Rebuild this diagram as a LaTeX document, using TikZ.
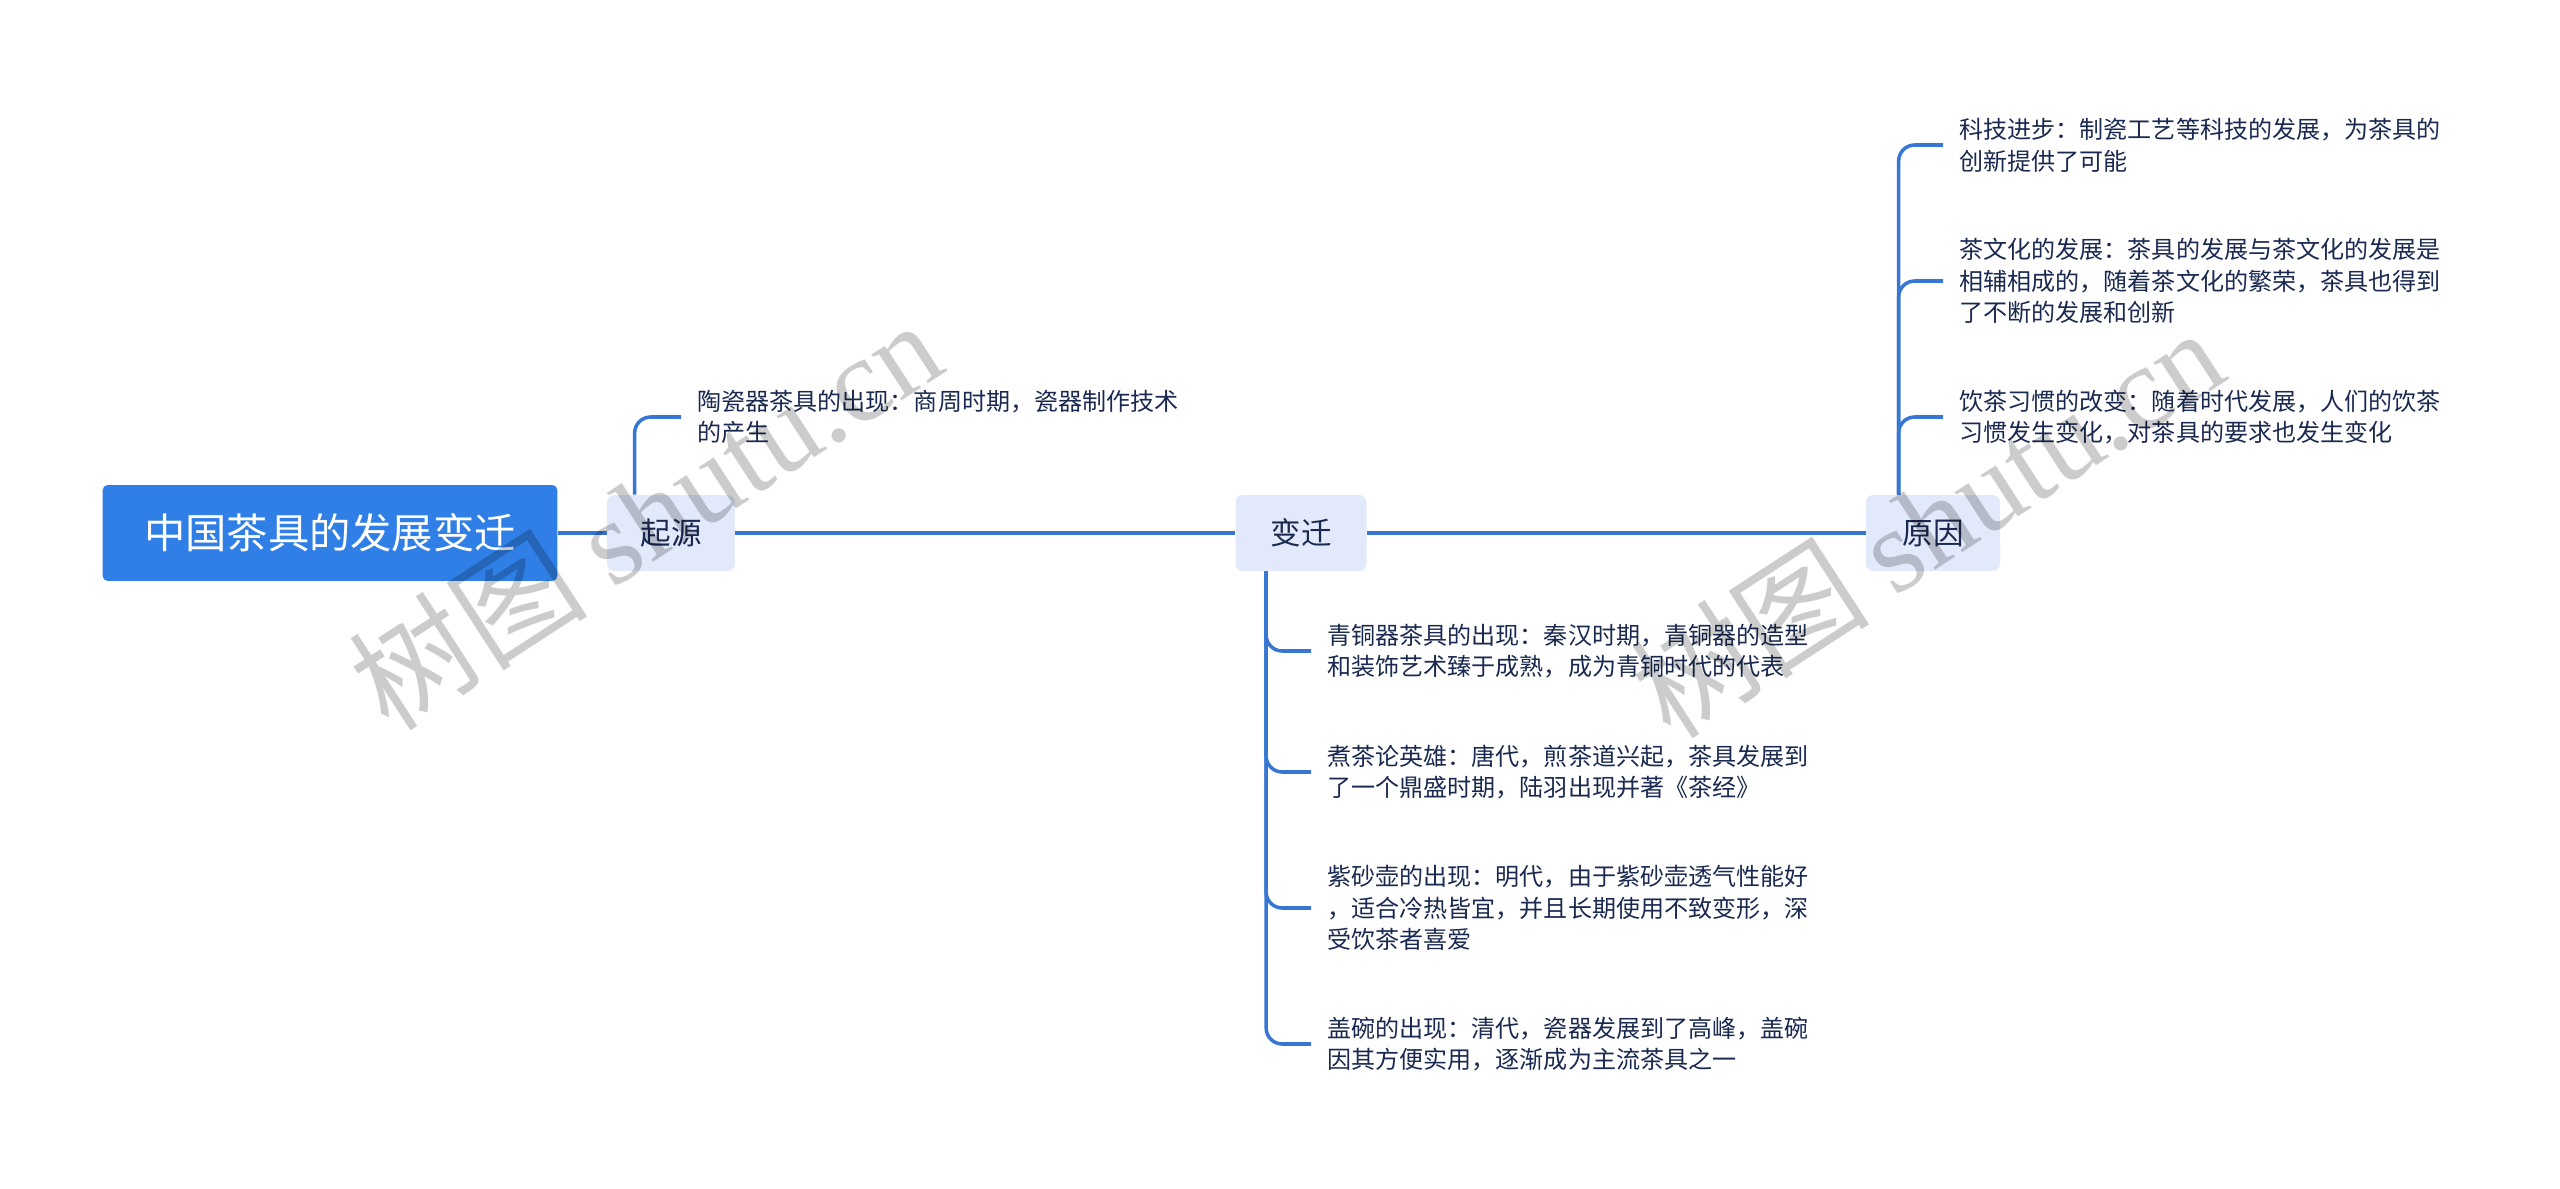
\documentclass[tikz,border=0pt]{standalone}
\usepackage{fontspec}
\usepackage{xcolor}
\setmainfont{Noto Sans CJK SC}
\newfontfamily\wmlatin{Liberation Serif}

\definecolor{rootblue}{HTML}{2F7FE6}
\definecolor{linkblue}{HTML}{3777D2}
\definecolor{topicfill}{HTML}{E2E9FA}
\definecolor{inktext}{HTML}{1A2950}

\begin{document}
\begin{tikzpicture}[x=0.02cm, y=-0.02cm,
  every node/.style={font=\fontsize{13.7pt}{18pt}\selectfont, text=inktext},
  root/.style={fill=rootblue, rounded corners=3pt, minimum width=9.1cm, minimum height=1.92cm, text=white, font=\fontsize{23.5pt}{28pt}\selectfont},
  topic/.style={fill=topicfill, rounded corners=4pt, minimum height=1.52cm, font=\fontsize{17.4pt}{21pt}\selectfont},
  leaf/.style={anchor=west, align=left, inner xsep=0.32cm, inner ysep=0pt},
  link/.style={draw=linkblue, line width=2pt},
  branch/.style={link, rounded corners=0.32cm},
  wm/.style={text=black, text opacity=0.2, font=\fontsize{68pt}{68pt}\selectfont}]
\useasboundingbox (0,0) rectangle (2560,1189);
\node[root] (root) at (330,533) {中国茶具的发展变迁};
\node[topic, minimum width=2.56cm] (qy) at (671,533) {起源};
\node[topic, minimum width=2.62cm] (bq) at (1301,533) {变迁};
\node[topic, minimum width=2.68cm] (yy) at (1933,533) {原因};
\draw[link] (root) -- (qy); \draw[link] (qy) -- (bq); \draw[link] (bq) -- (yy);
% 起源
\node[leaf] (qy1) at (681,417) {陶瓷器茶具的出现：商周时期，瓷器制作技术\\的产生};
\draw[branch] ([xshift=0.56cm]qy.north west) |- (qy1.west);
% 变迁
\node[leaf] (bq1) at (1311,651) {青铜器茶具的出现：秦汉时期，青铜器的造型\\和装饰艺术臻于成熟，成为青铜时代的代表};
\node[leaf] (bq2) at (1311,772) {煮茶论英雄：唐代，煎茶道兴起，茶具发展到\\了一个鼎盛时期，陆羽出现并著《茶经》};
\node[leaf] (bq3) at (1311,908) {紫砂壶的出现：明代，由于紫砂壶透气性能好\\，适合冷热皆宜，并且长期使用不致变形，深\\受饮茶者喜爱};
\node[leaf] (bq4) at (1311,1044) {盖碗的出现：清代，瓷器发展到了高峰，盖碗\\因其方便实用，逐渐成为主流茶具之一};
\foreach \n in {bq1,bq2,bq3,bq4}
  \draw[branch] ([xshift=0.62cm]bq.south west) |- (\n.west);
% 原因
\node[leaf] (yy1) at (1943,145) {科技进步：制瓷工艺等科技的发展，为茶具的\\创新提供了可能};
\node[leaf] (yy2) at (1943,281) {茶文化的发展：茶具的发展与茶文化的发展是\\相辅相成的，随着茶文化的繁荣，茶具也得到\\了不断的发展和创新};
\node[leaf] (yy3) at (1943,417) {饮茶习惯的改变：随着时代发展，人们的饮茶\\习惯发生变化，对茶具的要求也发生变化};
\foreach \n in {yy1,yy2,yy3}
  \draw[branch] ([xshift=0.66cm]yy.north west) |- (\n.west);
% watermarks
\node[wm, rotate=33] (wm1) at (645,514) {树图 {\wmlatin shutu.cn}};
\node[wm, rotate=33] (wm2) at (1927,522) {树图 {\wmlatin shutu.cn}};
\end{tikzpicture}
\end{document}
